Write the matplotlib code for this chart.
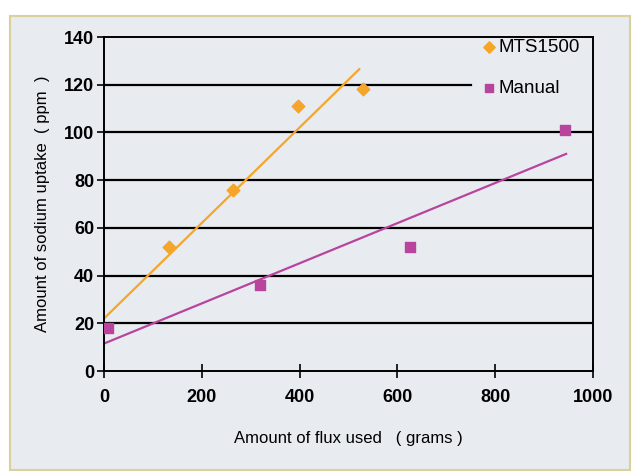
import matplotlib
matplotlib.use('Agg')
from matplotlib import pyplot as plt
from matplotlib.patches import Rectangle

# data
mts_flux = [133, 263, 396, 530]
mts_sodium = [52, 76, 111, 118]
manual_flux = [8, 318, 626, 942]
manual_sodium = [18, 36, 52, 101]

# trend lines (endpoints as drawn in the original)
mts_trend_x = [0, 522]
mts_trend_y = [22, 126.5]
manual_trend_x = [0, 945]
manual_trend_y = [11.5, 91]

x_ticks = [0, 200, 400, 600, 800, 1000]
y_ticks = [0, 20, 40, 60, 80, 100, 120, 140]

bg = '#e8ecf0'
orange = '#f5a62a'
magenta = '#b8449e'

plt.rcParams['font.family'] = ['Liberation Sans Narrow', 'Liberation Sans', 'DejaVu Sans']

fig = plt.figure(figsize=(6.36, 4.71), dpi=100, facecolor='white')
fig.add_artist(Rectangle((10 / 636, 1 - 470 / 471), 620 / 636, 454 / 471,
                         transform=fig.transFigure, facecolor=bg,
                         edgecolor='#d9d09a', linewidth=1.5, zorder=-10))

ax = fig.add_axes([104 / 636, 1 - 371 / 471, 489 / 636, 334 / 471])
ax.set_zorder(1)
ax.set_facecolor(bg)

# horizontal grid lines (the 120 line stops where the legend sits)
for yv in y_ticks[1:-1]:
    ax.axhline(yv, xmax=0.75 if yv == 120 else 1, color='black', lw=1.6, zorder=1)

ax.plot(mts_trend_x, mts_trend_y, color=orange, lw=1.6, zorder=2)
ax.plot(manual_trend_x, manual_trend_y, color=magenta, lw=1.6, zorder=2)
ax.scatter(mts_flux, mts_sodium, marker='D', s=42, color=orange, zorder=3, label='MTS1500')
ax.scatter(manual_flux, manual_sodium, marker='s', s=42, color=magenta, zorder=3, label='Manual')

ax.set_xlim(0, 1000)
ax.set_ylim(0, 140)
ax.set_xticks(x_ticks)
ax.set_yticks(y_ticks)
ax.tick_params(axis='x', direction='inout', length=10, width=1.2, pad=8)
ax.tick_params(axis='y', direction='out', length=5, width=1.2, pad=2)
for lab in ax.get_xticklabels() + ax.get_yticklabels():
    lab.set_fontweight('bold')
    lab.set_fontsize(13)

for side in ['left', 'bottom', 'top', 'right']:
    ax.spines[side].set_linewidth(1.4)
    ax.spines[side].set_color('black')

ax.set_xlabel('Amount of flux used   ( grams )', fontsize=12, labelpad=18)
ax.set_ylabel('Amount of sodium uptake  ( ppm  )', fontsize=12, labelpad=10)

leg = ax.legend(loc='upper left', bbox_to_anchor=(0.742, 1.035), frameon=False,
                fontsize=13.5, handletextpad=0.0, handlelength=1.0,
                borderaxespad=0.3, labelspacing=1.3, markerscale=0.9)

plt.savefig('out.png', dpi=100, facecolor='white')
